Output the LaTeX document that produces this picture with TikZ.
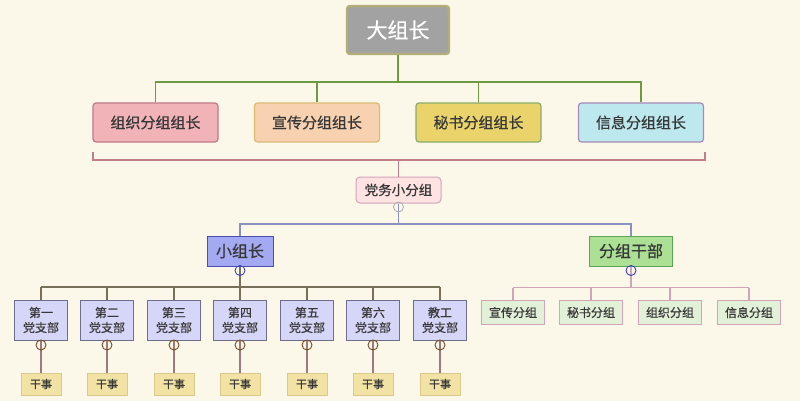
\documentclass[tikz,border=0pt]{standalone}
\usepackage{fontspec}
\newfontfamily\cjk[FakeBold=0.6]{Noto Sans CJK SC}
\definecolor{bgcream}{HTML}{FBF8EA}
\definecolor{txtgray}{HTML}{383838}
\definecolor{topfill}{HTML}{A2A2A2}
\definecolor{topline}{HTML}{B3AE78}
\definecolor{greenline}{HTML}{6E9A42}
\definecolor{redline}{HTML}{C47C88}
\definecolor{blueline}{HTML}{8A90C2}
\definecolor{oliveline}{HTML}{77705A}
\definecolor{pinkline}{HTML}{D2A4BA}
\definecolor{brownline}{HTML}{A07A7A}
\definecolor{headfill}{HTML}{A3AAF2}
\definecolor{cadrefill}{HTML}{ABE095}
\definecolor{orgfill}{HTML}{F2B3B8}
\definecolor{orgline}{HTML}{C07A88}
\definecolor{pubfill}{HTML}{F8D2B0}
\definecolor{publine}{HTML}{D8BC72}
\definecolor{secfill}{HTML}{E9D36A}
\definecolor{secline}{HTML}{8AAE6A}
\definecolor{inffill}{HTML}{BCE8EE}
\definecolor{infline}{HTML}{A889B8}
\definecolor{branchfill}{HTML}{D6D7F8}
\definecolor{branchline}{HTML}{6E6E8C}
\definecolor{clerkfill}{HTML}{F2E2A4}
\definecolor{clerkline}{HTML}{DCC88C}
\definecolor{groupfill}{HTML}{E3F0D8}
\begin{document}
\begin{tikzpicture}[x=1pt,y=-1pt,font=\cjk,text=txtgray,
    box/.style={draw,line width=1.2pt,align=center,inner sep=0pt,rounded corners=3pt},
    knob/.style={circle,draw,line width=0.9pt,minimum size=10pt,inner sep=0pt},
    leader/.style={box,minimum width=125pt,minimum height=39pt,font=\cjk\fontsize{15}{18}\selectfont},
    branch/.style={box,rounded corners=0pt,line width=1pt,draw=branchline,fill=branchfill,
      minimum width=53pt,minimum height=40pt,font=\cjk\fontsize{12}{15}\selectfont},
    clerk/.style={box,rounded corners=0pt,line width=1pt,draw=clerkline,fill=clerkfill,
      minimum width=40pt,minimum height=22pt,font=\cjk\fontsize{11}{12}\selectfont},
    group/.style={box,rounded corners=0pt,line width=1pt,draw=pinkline,fill=groupfill,
      minimum width=63pt,minimum height=24pt,font=\cjk\fontsize{12}{14}\selectfont}]
    \fill[bgcream] (0,0) rectangle (800,401);
    \useasboundingbox (0,0) rectangle (800,401);

    % top
    \node[box,line width=2.4pt,draw=topline,fill=topfill,text=white,minimum width=102pt,minimum height=48pt,
        font=\cjk\fontsize{21}{24}\selectfont] (chief) at (398,30) {大组长};

    % group leaders
    \node[leader,draw=orgline,fill=orgfill] (org) at (155.5,122.5) {组织分组组长};
    \node[leader,draw=publine,fill=pubfill] (pub) at (317,122.5) {宣传分组组长};
    \node[leader,draw=secline,fill=secfill] (sec) at (478.5,122.5) {秘书分组组长};
    \node[leader,draw=infline,fill=inffill] (inf) at (641,122.5) {信息分组组长};

    \coordinate (bus) at (398,82);
    \draw[greenline,line width=1.2pt] (chief) -- (bus);
    \draw[greenline,line width=1.2pt] (org.north) |- (bus) -| (inf.north);
    \draw[greenline,line width=1.2pt] (pub.north) -- (pub.north |- bus);
    \draw[greenline,line width=1.2pt] (sec.north) -- (sec.north |- bus);

    % bracket
    \coordinate (brl) at (93,152);
    \coordinate (brr) at (705,152);
    \coordinate (brm) at (398.5,160);
    \draw[redline,line width=1.2pt] (brl) -- ++(0,8) -| (brr);

    % party group
    \node[box,line width=1pt,rounded corners=4pt,draw=pinkline,fill=pink!45,minimum width=85pt,minimum height=26pt,
        font=\cjk\fontsize{13.5}{15}\selectfont] (party) at (398.5,190) {党务小分组};
    \draw[redline,line width=1.2pt] (brm) -- (party);

    % second level
    \node[box,rounded corners=0pt,line width=1pt,draw=blue!40!gray,fill=headfill,
        minimum width=66pt,minimum height=30pt,font=\cjk\fontsize{16}{18}\selectfont] (head) at (240,251) {小组长};
    \node[box,rounded corners=0pt,line width=1pt,draw=green!30!gray,fill=cadrefill,
        minimum width=83pt,minimum height=30pt,font=\cjk\fontsize{16}{18}\selectfont] (cadre) at (631,251) {分组干部};
    \coordinate (mid) at (398.5,224);
    \draw[blueline,line width=1.2pt] (party) -- (mid);
    \draw[blueline,line width=1.2pt] (head.north) |- (mid) -| (cadre.north);
    \node[knob,draw=gray!60] (k0) at (398.5,207) {};

    % party branches
    \coordinate (hb) at (240,287);
    \draw[oliveline,line width=1.1pt] (head) -- (hb);
    \node[knob,draw=blue!50!gray] (kh) at (240,270.5) {};
    \foreach \name/\x/\label in {b1/41/第一, b2/107/第二, b3/174/第三, b4/240/第四,
        b5/307/第五, b6/373/第六, b7/440/教工} {
        \node[branch] (\name) at (\x,320) {\label\\党支部};
        \draw[oliveline,line width=1.1pt] (\name.north) -- (\name.north |- hb);
        \node[clerk] (\name c) at (\x,384) {干事};
        \draw[brownline,line width=1.1pt] (\name) -- (\name c);
        \node[knob,draw=brown!60!black] (\name k) at (\x,345) {};
    }
    \draw[oliveline,line width=1.1pt] (b1.north |- hb) -- (b7.north |- hb);

    % sub groups
    \coordinate (cb) at (631,287.5);
    \draw[pinkline,line width=1.1pt] (cadre) -- (cb);
    \node[knob,draw=blue!55!gray] (kc) at (631,270.5) {};
    \foreach \name/\x/\label in {g1/513/宣传分组, g2/591/秘书分组, g3/670/组织分组, g4/749/信息分组} {
        \node[group] (\name) at (\x,312.5) {\label};
        \draw[pinkline,line width=1.1pt] (\name.north) -- (\name.north |- cb);
    }
    \draw[pinkline,line width=1.1pt] (g1.north |- cb) -- (g4.north |- cb);
\end{tikzpicture}
\end{document}
